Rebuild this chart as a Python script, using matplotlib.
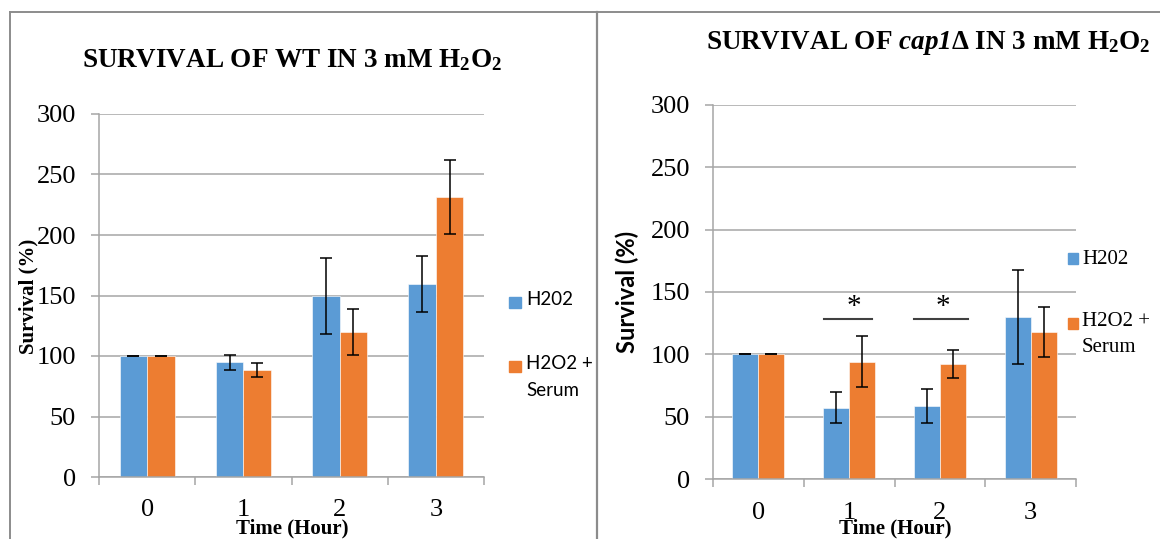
import matplotlib
matplotlib.use("Agg")
import matplotlib.pyplot as plt
from matplotlib.patches import Rectangle
from matplotlib.lines import Line2D
import numpy as np

plt.rcParams['mathtext.fontset'] = 'custom'
plt.rcParams['mathtext.rm'] = 'Liberation Serif:bold'
plt.rcParams['mathtext.it'] = 'Liberation Serif:italic:bold'
plt.rcParams['mathtext.bf'] = 'Liberation Serif:bold'
plt.rcParams['mathtext.sf'] = 'Liberation Serif:italic:bold'

# ---------------- data ----------------
hours = ['0', '1', '2', '3']
series_labels = ['H202', 'H2O2 +\nSerum']

wt_h2o2 = [100, 95, 149.5, 159.5]
wt_h2o2_err = [0, 6.2, 31.6, 23.1]
wt_serum = [100, 88.6, 119.7, 231.5]
wt_serum_err = [0, 5.8, 19.1, 30.3]

cap_h2o2 = [100, 57.4, 58.6, 129.8]
cap_h2o2_err = [0, 12.5, 13.6, 37.5]
cap_serum = [100, 94.2, 92.4, 118.3]
cap_serum_err = [0, 20.4, 11.1, 20.0]

sig_spans = [(0.72, 1.25), (1.72, 2.31)]
sig_y = 128.4
sig_star_x = [1.05, 2.03]
sig_star_y = 138

yticks = [0, 50, 100, 150, 200, 250, 300]

BLUE = '#5B9BD5'
ORANGE = '#ED7D31'
GRID = '#A6A6A6'
W, H = 1160, 539

fig = plt.figure(figsize=(W / 100, H / 100), dpi=100)


def px_rect(x0, y0, x1, y1):
    return [x0 / W, 1 - y1 / H, (x1 - x0) / W, (y1 - y0) / H]


def draw_panel(ax, s1, e1, s2, e2):
    x = np.arange(len(hours))
    bw = 0.286
    ax.bar(x - bw / 2, s1, bw, color=BLUE, edgecolor='white', linewidth=0.4, zorder=2)
    ax.bar(x + bw / 2, s2, bw, color=ORANGE, edgecolor='white', linewidth=0.4, zorder=2)
    ax.errorbar(x - bw / 2, s1, yerr=e1, fmt='none', ecolor='black', elinewidth=1.1,
                capsize=4.6, capthick=1.1, zorder=3)
    ax.errorbar(x + bw / 2, s2, yerr=e2, fmt='none', ecolor='black', elinewidth=1.1,
                capsize=4.6, capthick=1.1, zorder=3)
    ax.set_xlim(-0.5, len(hours) - 0.5)
    ax.set_ylim(0, 300)
    ax.set_yticks(yticks)
    ax.set_yticklabels([str(t) for t in yticks], fontfamily='Liberation Serif', fontsize=19)
    ax.yaxis.grid(True, color=GRID, linewidth=1.1, zorder=0)
    ax.set_axisbelow(True)
    ax.set_xticks(x)
    ax.set_xticklabels(hours, fontfamily='Liberation Serif', fontsize=19)
    ax.set_xticks(np.arange(-0.5, len(hours)), minor=True)
    ax.tick_params(axis='x', which='major', length=0, pad=16)
    ax.tick_params(axis='x', which='minor', length=6, width=1.1, color=GRID, direction='out')
    ax.tick_params(axis='y', length=5.5, width=1.1, color=GRID, pad=11)
    for s in ['top', 'right']:
        ax.spines[s].set_visible(False)
    for s in ['left', 'bottom']:
        ax.spines[s].set_color(GRID)
        ax.spines[s].set_linewidth(1.1)
    return x


# ---------------- left panel ----------------
ax1 = fig.add_axes(px_rect(99, 114, 484, 477))
draw_panel(ax1, wt_h2o2, wt_h2o2_err, wt_serum, wt_serum_err)

# ---------------- right panel ----------------
ax2 = fig.add_axes(px_rect(713, 104.7, 1076, 479.3))
draw_panel(ax2, cap_h2o2, cap_h2o2_err, cap_serum, cap_serum_err)
for (a, b) in sig_spans:
    ax2.plot([a, b], [sig_y, sig_y], color='#404040', linewidth=1.5, zorder=4)
for sx in sig_star_x:
    ax2.text(sx, sig_star_y, '*', ha='center', va='center', fontsize=21,
             fontfamily='Liberation Serif', zorder=4)

# ---------------- titles & labels ----------------
fig.text(292 / W, 1 - 67 / H, r'SURVIVAL OF WT IN 3 mM H$_2$O$_2$', ha='center', va='baseline',
         fontfamily='Liberation Serif', fontweight='bold', fontsize=19.5)
fig.text(928 / W, 1 - 49 / H, r'SURVIVAL OF $\mathsf{cap1}$Δ IN 3 mM H$_2$O$_2$', ha='center',
         va='baseline', fontfamily='Liberation Serif', fontweight='bold', fontsize=19.5)

fig.text(28 / W, 1 - 296 / H, 'Survival (%)', rotation=90, ha='center', va='center',
         fontfamily='Liberation Serif', fontweight='bold', fontsize=15)
fig.text(627 / W, 1 - 292 / H, 'Survival (%)', rotation=90, ha='center', va='center',
         fontfamily='Lato', fontweight='bold', fontsize=17)

fig.text(292 / W, 1 - 528 / H, 'Time (Hour)', ha='center', va='center',
         fontfamily='Liberation Serif', fontweight='bold', fontsize=15)
fig.text(895 / W, 1 - 528 / H, 'Time (Hour)', ha='center', va='center',
         fontfamily='Liberation Serif', fontweight='bold', fontsize=15)

# ---------------- legends ----------------
def legend(sq_x0, sq_x1, sq_ys, txt_x, txt_ys, family, size, ls):
    for (y0, y1), col, lab, ty in zip(sq_ys, [BLUE, ORANGE], series_labels, txt_ys):
        fig.patches.append(Rectangle((sq_x0 / W, 1 - y1 / H), (sq_x1 - sq_x0) / W, (y1 - y0) / H,
                                     transform=fig.transFigure, color=col))
        fig.text(txt_x / W, 1 - ty / H, lab, ha='left', va='top', fontfamily=family,
                 fontsize=size, linespacing=ls)

legend(509, 521, [(297, 308), (361, 372)], 526, [291, 355], 'Lato', 13.5, 1.75)
legend(1068, 1078, [(253, 264), (318, 329)], 1082, [250, 312], 'Liberation Serif', 15, 1.5)

# ---------------- frame lines ----------------
lc = '#8C8C8C'
fig.add_artist(Line2D([10 / W, 1], [1 - 12 / H, 1 - 12 / H], transform=fig.transFigure, color=lc, lw=1.4))
fig.add_artist(Line2D([10 / W, 10 / W], [0, 1 - 12 / H], transform=fig.transFigure, color=lc, lw=1.4))
fig.add_artist(Line2D([597 / W, 597 / W], [0, 1 - 12 / H], transform=fig.transFigure, color=lc, lw=1.6))

fig.savefig('out.png', dpi=100)
